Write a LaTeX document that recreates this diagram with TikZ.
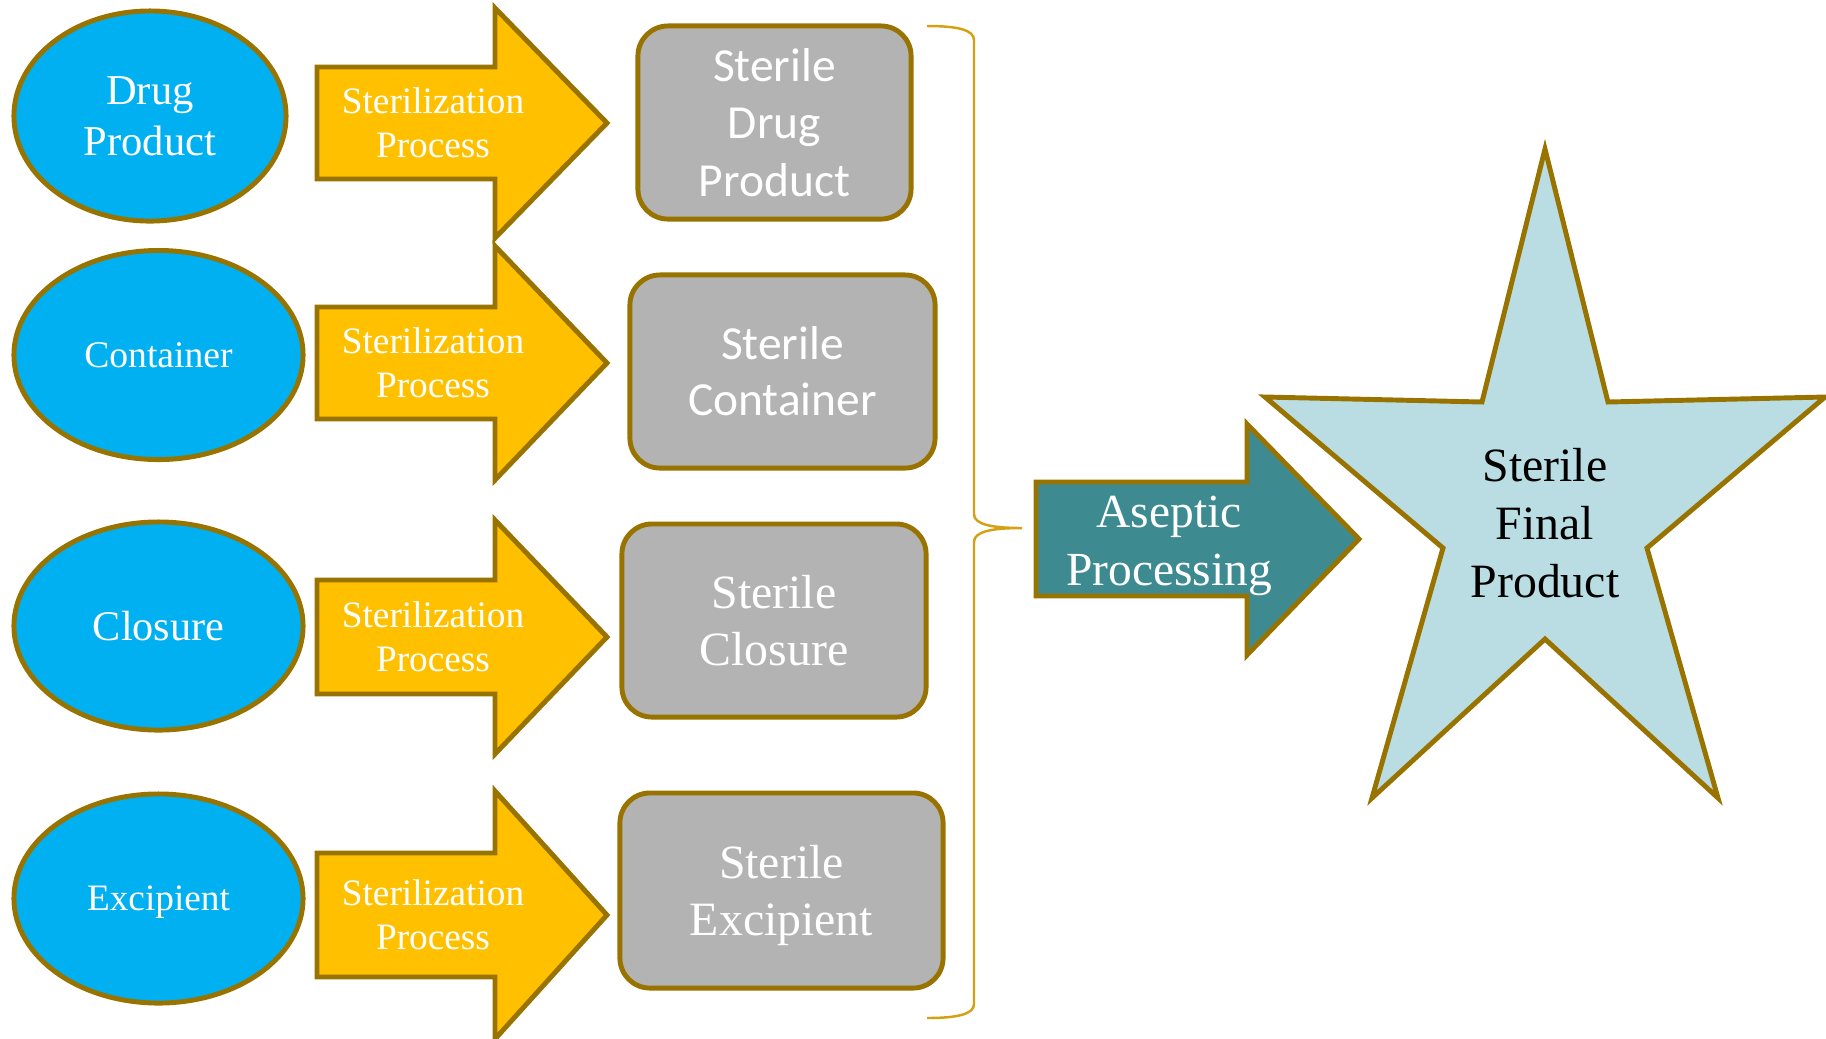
\documentclass[tikz,border=0pt]{standalone}
\usepackage{fontspec}
\setmainfont{Liberation Serif}
\newfontfamily\calibri{Carlito}
\usetikzlibrary{shapes.geometric}

\definecolor{edge}{RGB}{153,115,0}
\definecolor{skyfill}{RGB}{0,176,240}
\definecolor{gold}{RGB}{255,192,0}
\definecolor{boxgray}{RGB}{179,179,179}
\definecolor{asepticteal}{RGB}{61,139,145}
\definecolor{starblue}{RGB}{185,221,226}
\definecolor{bracegold}{RGB}{214,160,20}

\tikzstyle{source} = [draw=edge, fill=skyfill, ellipse, line width=1.4pt, text=white, align=center, inner sep=0pt, text depth=0pt]
\tikzstyle{sterile} = [draw=edge, fill=boxgray, rectangle, rounded corners=0.3cm, line width=1.4pt, text=white, align=center, minimum height=1.93cm]
\tikzstyle{bigarrow} = [draw=edge, line width=1.4pt, line join=miter]
\tikzstyle{arrowtext} = [text=white, align=center, inner sep=0pt]

\begin{document}
\begin{tikzpicture}[x=0.01cm, y=-0.01cm]
  \useasboundingbox (0,0) rectangle (1826,1038);

  % starting materials
  \node[source, minimum width=2.72cm, minimum height=2.10cm, font=\fontsize{12.1}{14.5}\selectfont] (drug) at (150,116) {Drug\\Product};
  \node[source, minimum width=2.89cm, minimum height=2.09cm, font=\fontsize{10.7}{13}\selectfont] (container) at (158.5,355) {Container};
  \node[source, minimum width=2.89cm, minimum height=2.08cm, font=\fontsize{12}{14.4}\selectfont] (closure) at (158.5,626) {Closure};
  \node[source, minimum width=2.89cm, minimum height=2.09cm, font=\fontsize{10.6}{13}\selectfont] (excipient) at (158.5,898.5) {Excipient};

  % sterilization arrows
  \foreach \i/\y/\s/\h in {1/123/56/115, 2/363/56/117, 3/637/57/117, 4/915/62/124} {
    \draw[bigarrow, fill=gold] (317,\y-\s) -- (495,\y-\s) -- (495,\y-\h) -- (607,\y) -- (495,\y+\h) -- (495,\y+\s) -- (317,\y+\s) -- cycle;
    \node[arrowtext, font=\fontsize{10.6}{12.5}\selectfont] (steril\i) at (433,\y) {Sterilization\\Process};
  }

  % sterile components
  \node[sterile, minimum width=2.73cm, font=\calibri\fontsize{13.5}{16.4}\selectfont] (sdrug) at (774.5,122.5) {Sterile\\Drug\\Product};
  \node[sterile, minimum width=3.05cm, font=\calibri\fontsize{13.5}{16}\selectfont] (scontainer) at (782.5,371.5) {Sterile\\Container};
  \node[sterile, minimum width=3.04cm, font=\fontsize{13.6}{16}\selectfont] (sclosure) at (774,620.5) {Sterile\\Closure};
  \node[sterile, minimum width=3.23cm, minimum height=1.95cm, text depth=0pt, font=\fontsize{13.6}{16}\selectfont] (sexcipient) at (781.5,890.5) {Sterile\\Excipient};

  % brace
  \coordinate (btop) at (927,26);
  \coordinate (bmid) at (1022,528);
  \coordinate (bbot) at (927,1018);
  \draw[bracegold, line width=0.7pt] (btop) .. controls (958,26) and (974,30) .. (974,40) -- (974,514)
    .. controls (974,524) and (990,528) .. (bmid)
    .. controls (990,528) and (974,532) .. (974,542) -- (974,1004)
    .. controls (974,1014) and (958,1018) .. (bbot);

  % aseptic processing
  \draw[bigarrow, fill=asepticteal] (1036,482) -- (1247,482) -- (1247,424) -- (1359,539) -- (1247,655) -- (1247,596) -- (1036,596) -- cycle;
  \node[arrowtext, text depth=0pt, font=\fontsize{13.5}{16.4}\selectfont] (aseptic) at (1169,541) {Aseptic\\Processing};

  % final product
  \draw[bigarrow, fill=starblue] (1545,149) -- (1482,402) -- (1265,397) -- (1443,548) -- (1372,798) -- (1545,639)
    -- (1718,798) -- (1647,548) -- (1825,397) -- (1608,402) -- cycle;
  \node[align=center, font=\fontsize{13.6}{16.4}\selectfont] (final) at (1545,523) {Sterile\\Final\\Product};
\end{tikzpicture}
\end{document}
